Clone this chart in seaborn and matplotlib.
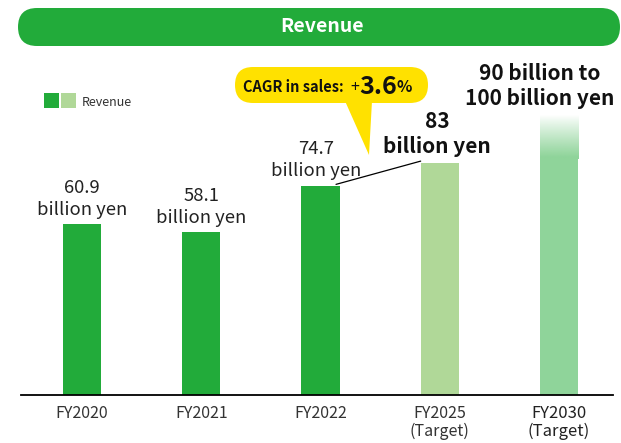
import seaborn as sns
import matplotlib.pyplot as plt
import numpy as np
from matplotlib.patches import FancyBboxPatch, Polygon, Rectangle
from matplotlib.colors import to_rgb

# data
years = ['FY2020', 'FY2021', 'FY2022', 'FY2025', 'FY2030']
subs = ['', '', '', '(Target)', '(Target)']
revenue = [60.9, 58.1, 74.7, 83, 85]      # FY2030: solid part of the bar
fy2030_top = 100                         # upper end of the 90-100 target (faded)
labels = ['60.9\nbillion yen', '58.1\nbillion yen', '74.7\nbillion yen',
          '83\nbillion yen', '90 billion to\n100 billion yen']
colors = ['#22ab3a', '#22ab3a', '#22ab3a', '#b0d898', '#8fd49a']
cagr = '3.6'

sns.set_style('white')
plt.rcParams['font.family'] = ['Noto Sans CJK JP', 'DejaVu Sans']

fig = plt.figure(figsize=(6.21, 4.43), dpi=100)
W, H = 621, 443
ax = fig.add_axes([21 / W, 48 / H, 592 / W, 335 / H])

sns.barplot(x=years, y=revenue, hue=years, palette=colors, width=0.32,
            legend=False, saturation=1, linewidth=0, ax=ax)

# faded top of the FY2030 bar
bar = ax.patches[4]
x0, bw = bar.get_x(), bar.get_width()
rgb = to_rgb(colors[4])
grad = np.zeros((100, 1, 4))
grad[:, 0, :3] = rgb
grad[:, 0, 3] = np.clip(np.linspace(1.05, 0, 100), 0, 1) ** 0.9
ax.imshow(grad, extent=[x0, x0 + bw, revenue[4] - 0.6, fy2030_top], origin='lower',
          aspect='auto', interpolation='bilinear', zorder=2)

ax.set_xlim(-0.512, 4.453)
ax.set_ylim(0, 119.6)
ax.set_yticks([])
ax.set_xlabel('')
ax.set_ylabel('')
for s in ['top', 'left', 'right']:
    ax.spines[s].set_visible(False)
ax.spines['bottom'].set_color('black')
ax.spines['bottom'].set_linewidth(1.3)
ax.spines['bottom'].set_zorder(5)

ax.set_xticks(range(len(years)))
ax.set_xticklabels([y + ('\n' + s if s else '') for y, s in zip(years, subs)],
                   linespacing=1.05)
ax.tick_params(axis='x', length=0, pad=7, labelsize=11.5, labelcolor='#333333')
ax.get_xticklabels()[4].set_fontsize(12)
ax.get_xticklabels()[4].set_color('#222222')

# value labels
tops = revenue[:4] + [fy2030_top]
for i, (lab, top) in enumerate(zip(labels, tops)):
    if i < 3:
        dx = -3 if i == 2 else 0
        ax.annotate(lab, xy=(i, top), xytext=(dx, 4), textcoords='offset points',
                    ha='center', va='bottom', fontsize=13.3, color='#222222',
                    linespacing=1.3)
    else:
        dx = -2 if i == 3 else -14
        ax.annotate(lab, xy=(i, top), xytext=(dx, 4), textcoords='offset points',
                    ha='center', va='bottom', fontsize=15, fontweight='bold',
                    color='#111111', linespacing=1.25)

# connector between FY2022 and FY2025 bar tops
p2, p3 = ax.patches[2], ax.patches[3]
ax.plot([p2.get_x() + p2.get_width() - 0.03, p3.get_x()],
        [revenue[2] + 0.5, revenue[3] + 0.5], color='black', lw=0.9, zorder=4)

# header bar
inch = fig.dpi_scale_trans
fig.patches.append(FancyBboxPatch((0.18, (H - 46) / 100), 6.02, 0.38,
                                  boxstyle='round,pad=0,rounding_size=0.19',
                                  fc='#22ab3a', ec='none', transform=inch))
fig.text(322 / W, 1 - 27 / H, 'Revenue', color='white', fontsize=14,
         fontweight='bold', ha='center', va='center')

# legend
for k, c in enumerate(['#22ab3a', '#b0d898']):
    fig.patches.append(Rectangle(((44 + 17 * k) / 100, (H - 108) / 100), 0.15, 0.15,
                                 fc=c, ec='none', transform=inch))
fig.text(82 / W, 1 - 102 / H, 'Revenue', fontsize=9, color='#333333',
         ha='left', va='center')

# CAGR callout
fig.patches.append(Polygon([(3.45, (H - 101) / 100), (3.72, (H - 101) / 100),
                            (3.69, (H - 155) / 100)],
                           closed=True, fc='#ffe100', ec='none', transform=inch))
fig.patches.append(FancyBboxPatch((2.35, (H - 103) / 100), 1.93, 0.36,
                                  boxstyle='round,pad=0,rounding_size=0.18',
                                  fc='#ffe100', ec='none', transform=inch))

fig.canvas.draw()
r = fig.canvas.get_renderer()
yc = 1 - 87 / H
parts = [('CAGR in sales:  ', 10.5, 'bold'), ('+', 11.5, 'normal'),
         (cagr, 18, 'bold'), ('%', 11.5, 'bold')]
xpix = 243
for txt, fs, fw in parts:
    t = fig.text(xpix / W, yc, txt, fontsize=fs, fontweight=fw, color='#111111',
                 ha='left', va='center')
    xpix += t.get_window_extent(r).width

fig.savefig('out.png', dpi=100)
